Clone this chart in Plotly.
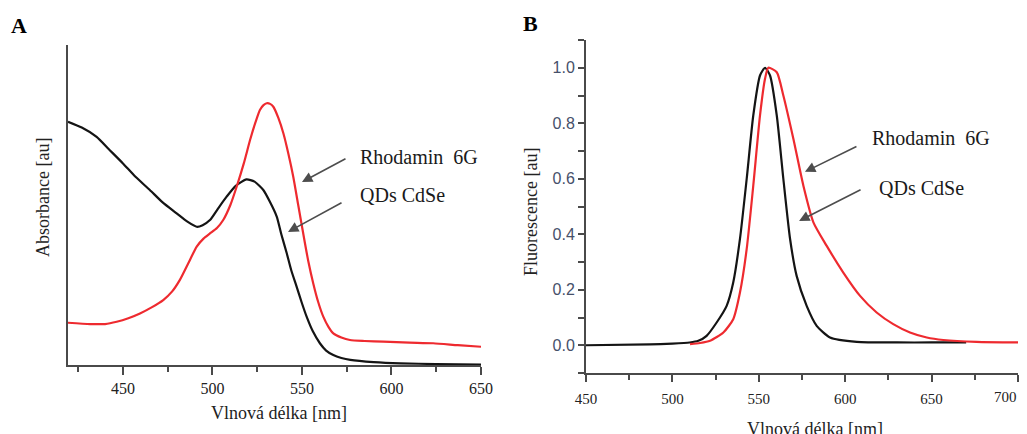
import plotly.graph_objects as go

# ---------------- Panel A: absorbance (arbitrary units, 0..1 of axis height)
a_qd_x = [419.3, 427.0, 435.3, 442.0, 450.0, 457.0, 465.0, 472.0, 480.0, 486.0, 491.2, 494.5,
          498.6, 503.0, 507.9, 513.0, 519.0, 523.5, 528.4, 532.0, 535.9, 538.5, 541.5, 544.0,
          547.0, 549.8, 552.6, 556.0, 560.0, 563.5, 567.5, 572.0, 577.0, 590.0, 605.0, 625.0, 650.0]
a_qd_y = [0.760, 0.742, 0.713, 0.675, 0.630, 0.588, 0.547, 0.509, 0.474, 0.448, 0.432, 0.437,
          0.453, 0.488, 0.526, 0.560, 0.580, 0.573, 0.547, 0.511, 0.464, 0.408, 0.349, 0.296,
          0.245, 0.196, 0.151, 0.106, 0.068, 0.045, 0.031, 0.022, 0.016, 0.009, 0.005, 0.003, 0.001]

a_rh_x = [419.3, 431.6, 440.0, 446.5, 453.0, 459.5, 466.0, 472.5, 477.5, 481.8, 486.5, 491.2,
          495.0, 498.6, 502.5, 506.0, 510.0, 513.5, 517.5, 521.0, 524.0, 526.5, 528.5, 530.3,
          532.2, 534.0, 536.8, 539.6, 542.4, 545.1, 547.9, 550.7, 553.5, 556.3, 559.1, 561.9,
          564.7, 567.5, 572.0, 576.8, 585.0, 595.4, 610.0, 623.3, 637.0, 650.0]
a_rh_y = [0.132, 0.128, 0.128, 0.135, 0.146, 0.161, 0.180, 0.203, 0.230, 0.266, 0.318, 0.370,
          0.395, 0.411, 0.428, 0.453, 0.500, 0.557, 0.630, 0.703, 0.758, 0.797, 0.812, 0.818,
          0.816, 0.807, 0.772, 0.724, 0.660, 0.589, 0.500, 0.411, 0.325, 0.255, 0.196, 0.151,
          0.120, 0.099, 0.086, 0.078, 0.075, 0.073, 0.070, 0.068, 0.062, 0.057]

# ---------------- Panel B: fluorescence (normalised)
b_qd_x = [450.0, 487.0, 500.0, 510.0, 515.0, 519.8, 525.6, 531.4, 535.2, 539.1, 543.0,
          546.8, 550.7, 553.6, 556.5, 560.4, 564.2, 568.1, 571.9, 577.7, 583.5, 591.2,
          606.7, 630.0, 650.0, 670.0]
b_qd_y = [0.000, 0.003, 0.006, 0.010, 0.016, 0.034, 0.082, 0.142, 0.226, 0.383, 0.600,
          0.828, 0.972, 1.000, 0.972, 0.828, 0.600, 0.383, 0.250, 0.142, 0.070, 0.028,
          0.012, 0.010, 0.010, 0.010]

b_rh_x = [510.2, 516.0, 521.8, 529.5, 535.2, 539.1, 543.0, 546.8, 550.7, 553.6, 555.5,
          560.4, 564.2, 570.0, 575.8, 581.6, 589.3, 598.9, 608.6, 618.2, 627.8, 637.5,
          647.2, 656.8, 676.0, 700.0]
b_rh_y = [0.004, 0.008, 0.016, 0.046, 0.094, 0.190, 0.347, 0.575, 0.828, 0.960, 1.000,
          0.984, 0.900, 0.744, 0.575, 0.443, 0.358, 0.262, 0.178, 0.118, 0.076, 0.046,
          0.028, 0.019, 0.012, 0.010]

x_ticks_a = [450, 500, 550, 600, 650]
x_ticks_b = [450, 500, 550, 600, 650, 700]
y_ticks_b = [0.0, 0.2, 0.4, 0.6, 0.8, 1.0]

labels = ["Rhodamin  6G", "QDs CdSe"]

W, H = 1027, 434
OFF = 8  # page body margin: the figure is drawn 8px right/down in the window
RED = "#ee2a2f"
BLACK = "#141414"
AXC = "#4a4a4a"
SERIF = "Liberation Serif, Times New Roman, serif"
SANS = "Liberation Sans, Arial, sans-serif"

def px(x):
    return (x - OFF) / W

def py(y):
    return 1 - (y - OFF) / H

fig = go.Figure()
line_kw = dict(width=2.2, shape="spline", smoothing=0.6)
fig.add_trace(go.Scatter(x=a_qd_x, y=a_qd_y, mode="lines", line=dict(color=BLACK, **line_kw),
                         xaxis="x", yaxis="y", showlegend=False))
fig.add_trace(go.Scatter(x=a_rh_x, y=a_rh_y, mode="lines", line=dict(color=RED, **line_kw),
                         xaxis="x", yaxis="y", showlegend=False))
fig.add_trace(go.Scatter(x=b_qd_x, y=b_qd_y, mode="lines", line=dict(color=BLACK, **line_kw),
                         xaxis="x2", yaxis="y2", showlegend=False))
fig.add_trace(go.Scatter(x=b_rh_x, y=b_rh_y, mode="lines", line=dict(color=RED, **line_kw),
                         xaxis="x2", yaxis="y2", showlegend=False))

common_axis = dict(showline=True, linecolor=AXC, linewidth=2, showgrid=False, zeroline=False,
                   ticks="outside", tickcolor=AXC, tickwidth=1.5)

# last B tick label is drawn as an annotation so it stays inside the visible window
b_ticktext = [str(v) for v in x_ticks_b[:-1]] + [""]

fig.update_layout(
    width=W, height=H,
    margin=dict(l=0, r=0, t=0, b=0, autoexpand=False),
    paper_bgcolor="white", plot_bgcolor="white",
    xaxis=dict(domain=[px(68), px(481)], range=[419.3, 650], anchor="y",
               tickvals=x_ticks_a, ticklen=8, automargin=False,
               minor=dict(dtick=25, tick0=425, ticklen=5, ticks="outside", tickcolor=AXC, tickwidth=1.5),
               tickfont=dict(family=SERIF, size=16, color="#222"), **common_axis),
    yaxis=dict(domain=[py(365), py(45)], range=[0, 1], anchor="x", automargin=False,
               showline=True, linecolor=AXC, linewidth=2, showgrid=False, zeroline=False,
               showticklabels=False, ticks=""),
    xaxis2=dict(domain=[px(586), px(1018)], range=[450, 700], anchor="y2",
                tickvals=x_ticks_b, ticktext=b_ticktext, ticklen=7, ticklabelstandoff=4, automargin=False,
                minor=dict(dtick=25, tick0=450, ticklen=5, ticks="outside", tickcolor=AXC, tickwidth=1.5),
                tickfont=dict(family=SERIF, size=15, color="#222"), **common_axis),
    yaxis2=dict(domain=[py(373), py(40)], range=[-0.1, 1.1], anchor="x2", automargin=False,
                tickvals=y_ticks_b, ticktext=[f"{v:.1f}" for v in y_ticks_b], ticklen=6,
                minor=dict(dtick=0.1, tick0=0, ticklen=6, ticks="outside", tickcolor=AXC, tickwidth=1.5),
                tickfont=dict(family=SANS, size=16, color="#46506a"), **common_axis),
)

ann = []
def txt_ann(text, x, y, size, angle=0, xanchor="center", yanchor="middle", family=SERIF, color="#222"):
    return dict(text=text, x=px(x), y=py(y), xref="paper", yref="paper", textangle=angle,
                xanchor=xanchor, yanchor=yanchor, showarrow=False,
                font=dict(family=family, size=size, color=color))

# panel labels
ann.append(txt_ann("<b>A</b>", 19, 25, 22, color="black"))
ann.append(txt_ann("<b>B</b>", 530, 24, 22, color="black"))
# axis titles
ann.append(txt_ann("Absorbance [au]", 43, 198, 18, angle=-90))
ann.append(txt_ann("Vlnová délka [nm]", 279, 413, 18))
ann.append(txt_ann("Fluorescence [au]", 531, 212, 18, angle=-90))
ann.append(txt_ann("Vlnová délka [nm]", 815, 429, 18))
# last x tick label of panel B
ann.append(txt_ann(str(x_ticks_b[-1]), 1019, 397, 15, xanchor="right"))
# curve labels
for (t, xl, yc) in [(labels[0], 358, 157), (labels[1], 358, 195), (labels[0], 870, 138), (labels[1], 877, 188)]:
    ann.append(txt_ann(t, xl, yc, 20, xanchor="left", color="#1a1a1a"))
# arrows (head in data coords, tail offset in pixels)
arrow_kw = dict(showarrow=True, arrowhead=2, arrowsize=1.3, arrowwidth=1.6, arrowcolor="#4d4d4d", text="")
ann.append(dict(x=550.0, y=0.572, xref="x", yref="y", ax=45, ay=-24, **arrow_kw))
ann.append(dict(x=542.2, y=0.416, xref="x", yref="y", ax=55, ay=-30, **arrow_kw))
ann.append(dict(x=576.7, y=0.625, xref="x2", yref="y2", ax=53, ay=-26, **arrow_kw))
ann.append(dict(x=573.3, y=0.448, xref="x2", yref="y2", ax=63, ay=-32, **arrow_kw))
fig.update_layout(annotations=ann)

fig.write_html("out.html")
